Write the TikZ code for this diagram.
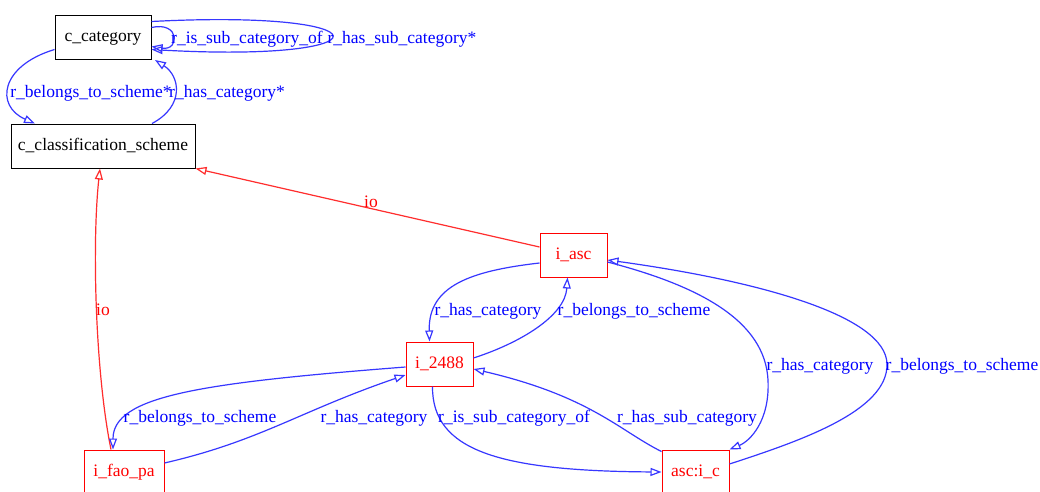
\documentclass[tikz,border=0pt]{standalone}
\usepackage{fontspec}
\setmainfont{Liberation Serif}
\usetikzlibrary{arrows.meta,calc}
\definecolor{relblue}{RGB}{55,55,255}
\definecolor{iored}{RGB}{255,45,45}
\tikzset{
  clsbox/.style={draw=black, line width=1pt, minimum height=44pt, inner sep=0pt, text=black, text height=12pt, text depth=4pt},
  instbox/.style={draw=red, line width=1pt, minimum height=44pt, minimum width=67pt, inner sep=0pt, text=red, text height=12pt, text depth=4pt},
  rel/.style={draw=relblue, line width=1.2pt, -{Triangle[open,length=11pt,width=8pt]}},
  io/.style={draw=iored, line width=1.2pt, -{Triangle[open,length=11pt,width=8pt]}},
  lbl/.style={text=blue, inner sep=0pt, text height=12pt, text depth=4pt},
  iolbl/.style={text=red, inner sep=0pt, text height=12pt, text depth=4pt},
}

\begin{document}
\begin{tikzpicture}[x=1pt,y=1pt,font=\fontsize{17.5}{20}\selectfont]
  \fill[white] (0,0) rectangle (1040,491);
  \useasboundingbox (0,0) rectangle (1040,491);

  % classes
  \node[clsbox, minimum width=96pt] (cat) at (103,453.5) {c\_category};
  \node[clsbox, minimum width=184pt] (scheme) at (103,345) {c\_classification\_scheme};

  % instances
  \node[instbox] (asc) at (573.5,236) {i\_asc};
  \node[instbox] (i2488) at (439.5,127) {i\_2488};
  \node[instbox, minimum width=80pt] (fao) at (124,19) {i\_fao\_pa};
  \node[instbox] (ascic) at (695.5,19) {asc:i\_c};

  % relations between the classes
  \draw[rel] ([yshift=10pt]cat.east) .. controls (180,470) and (180,440) .. ([yshift=-9pt]cat.east);
  \draw[rel] ([yshift=16pt]cat.east) .. controls (392,482) and (392,428) .. ([yshift=-12pt]cat.east);
  \draw[rel] ([yshift=-12pt]cat.west) .. controls (0,425) and (-5,385) .. ([xshift=-68pt]scheme.north);
  \draw[rel] ([xshift=49pt]scheme.north) .. controls (185,385) and (180,415) .. ([xshift=52pt]cat.south);
  \node[lbl] (lsubof) at (247,451) {r\_is\_sub\_category\_of};
  \node[lbl] (lhassub) at (402,451) {r\_has\_sub\_category*};
  \node[lbl] (lbelongs) at (91,397.5) {r\_belongs\_to\_scheme*};
  \node[lbl] (lhascat) at (227,397.5) {r\_has\_category*};

  % instance of
  \draw[io] ([yshift=8pt]asc.west) -- (scheme.south east);
  \draw[io] ([xshift=-13pt]fao.north) .. controls (95,120) and (92,250) .. ([xshift=-3pt]scheme.south);
  \node[iolbl] (lioasc) at (371,288) {io};
  \node[iolbl] (liofao) at (103,180) {io};

  % relations between the instances
  \draw[rel] ([yshift=-8pt]asc.west) .. controls (470,220) and (428,205) .. ([xshift=-10pt]i2488.north);
  \draw[rel] ([yshift=6pt]i2488.east) .. controls (520,148) and (565,175) .. ([xshift=-6pt]asc.south);
  \draw[rel] ([yshift=-3pt]i2488.west) .. controls (200,108) and (113,95) .. ([xshift=-11pt]fao.north);
  \draw[rel] ([yshift=9pt]fao.east) .. controls (260,50) and (300,80) .. ([yshift=-11pt]i2488.west);
  \draw[rel] ([xshift=-7pt]i2488.south) .. controls (432,40) and (500,20) .. (ascic.west);
  \draw[rel] ([yshift=-2pt]ascic.north west) .. controls (620,60) and (590,95) .. ([yshift=-5pt]i2488.east);
  \draw[rel] ([yshift=-7pt]asc.east) .. controls (700,205) and (765,170) .. (768,111)
    .. controls (770,70) and (750,50) .. (ascic.north east);
  \draw[rel] ([yshift=8pt]ascic.east) .. controls (800,50) and (888,80) .. (887,127)
    .. controls (886,175) and (760,210) .. ([yshift=-5pt]asc.east);
  \node[lbl] (lhascat1) at (488,179.5) {r\_has\_category};
  \node[lbl] (lbelongs1) at (634,179.5) {r\_belongs\_to\_scheme};
  \node[lbl] (lbelongs2) at (200,72.5) {r\_belongs\_to\_scheme};
  \node[lbl] (lhascat2) at (374,72.5) {r\_has\_category};
  \node[lbl] (lsubof2) at (514,72.5) {r\_is\_sub\_category\_of};
  \node[lbl] (lhassub2) at (687,72.5) {r\_has\_sub\_category};
  \node[lbl] (lhascat3) at (820,124.5) {r\_has\_category};
  \node[lbl] (lbelongs3) at (962,124.5) {r\_belongs\_to\_scheme};
\end{tikzpicture}
\end{document}
